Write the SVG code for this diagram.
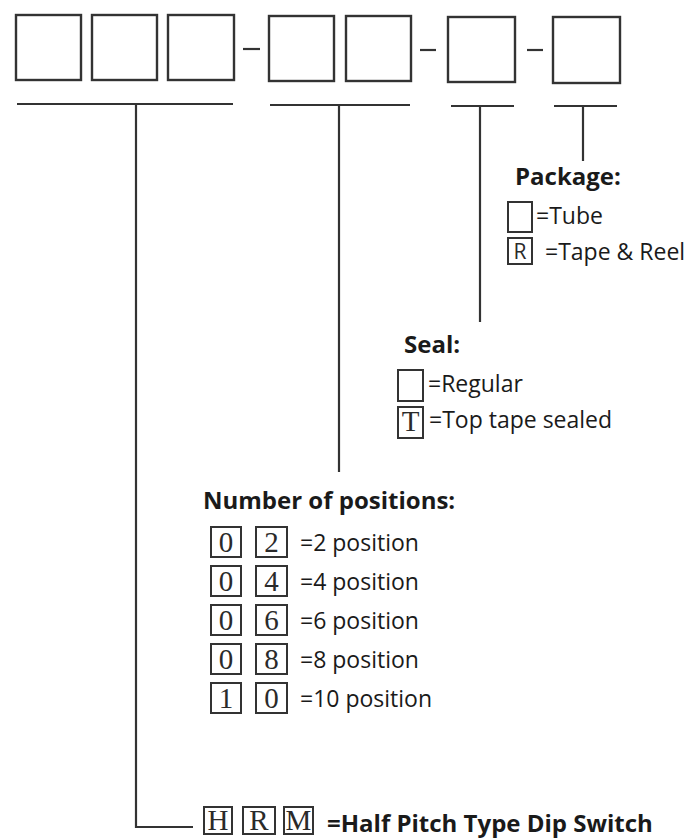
<svg xmlns="http://www.w3.org/2000/svg" width="692" height="838" viewBox="0 0 692 838">
<style>
.bx{fill:none;stroke:#333;stroke-width:2.4}
.sb{fill:none;stroke:#333;stroke-width:2}
.ln{fill:none;stroke:#333;stroke-width:2.2}
.h{font-family:"Open Sans","Noto Sans",sans-serif;font-weight:bold;font-size:24px;fill:#1a1a1a}
.t{font-family:"Open Sans","Noto Sans",sans-serif;font-size:23px;fill:#1a1a1a}
.c{font-family:"Liberation Serif",serif;font-size:29px;fill:#2a2a2a;text-anchor:middle}
.cs{font-family:"Open Sans",sans-serif;font-size:21px;fill:#2a2a2a;text-anchor:middle}
</style>
<rect width="692" height="838" fill="#fff"/>
<g id="code-boxes">
<rect class="bx" x="16" y="15" width="65" height="65"/>
<rect class="bx" x="92" y="15" width="65" height="65"/>
<rect class="bx" x="168" y="15" width="66" height="65"/>
<line class="ln" x1="243" y1="49" x2="260" y2="49" stroke-width="3"/>
<rect class="bx" x="269" y="16" width="65" height="65"/>
<rect class="bx" x="346" y="16" width="65" height="65"/>
<line class="ln" x1="420" y1="50" x2="436" y2="50" stroke-width="3"/>
<rect class="bx" x="448" y="17" width="67" height="65"/>
<line class="ln" x1="527" y1="50" x2="543" y2="50" stroke-width="3"/>
<rect class="bx" x="553" y="17" width="67" height="66"/>
</g>
<g id="connectors">
<line class="ln" x1="17" y1="104" x2="233" y2="104"/>
<polyline class="ln" points="136,104 136,827 193,827"/>
<line class="ln" x1="270" y1="105" x2="410" y2="105"/>
<line class="ln" x1="339" y1="105" x2="339" y2="472"/>
<line class="ln" x1="451" y1="106" x2="514" y2="106"/>
<line class="ln" x1="480" y1="106" x2="480" y2="322"/>
<line class="ln" x1="554" y1="106" x2="617" y2="106"/>
<line class="ln" x1="583" y1="106" x2="583" y2="161"/>
</g>
<g id="package">
<text class="h" x="515" y="185">Package:</text>
<rect class="sb" x="508" y="202" width="24" height="30"/>
<text class="t" x="536" y="224">=Tube</text>
<rect class="sb" x="508" y="238" width="24" height="26"/>
<text class="cs" x="520" y="259">R</text>
<text class="t" x="545" y="260">=Tape &amp; Reel</text>
</g>
<g id="seal">
<text class="h" x="404" y="353">Seal:</text>
<rect class="sb" x="398" y="370" width="25" height="31"/>
<text class="t" x="428" y="392">=Regular</text>
<rect class="sb" x="398" y="407" width="25" height="31"/>
<text class="c" x="410.5" y="431" font-size="27">T</text>
<text class="t" x="429" y="428">=Top tape sealed</text>
</g>
<g id="positions">
<text class="h" x="203" y="509">Number of positions:</text>
<rect class="sb" x="211" y="527" width="30" height="30"/><text class="c" x="226" y="552">0</text>
<rect class="sb" x="256" y="527" width="31" height="30"/><text class="c" x="271.5" y="552">2</text>
<text class="t" x="300" y="551">=2 position</text>
<rect class="sb" x="211" y="566" width="30" height="30"/><text class="c" x="226" y="591">0</text>
<rect class="sb" x="256" y="566" width="31" height="30"/><text class="c" x="271.5" y="591">4</text>
<text class="t" x="300" y="590">=4 position</text>
<rect class="sb" x="211" y="605" width="30" height="30"/><text class="c" x="226" y="630">0</text>
<rect class="sb" x="256" y="605" width="31" height="30"/><text class="c" x="271.5" y="630">6</text>
<text class="t" x="300" y="629">=6 position</text>
<rect class="sb" x="211" y="644" width="30" height="30"/><text class="c" x="226" y="669">0</text>
<rect class="sb" x="256" y="644" width="31" height="30"/><text class="c" x="271.5" y="669">8</text>
<text class="t" x="300" y="668">=8 position</text>
<rect class="sb" x="211" y="683" width="30" height="30"/><text class="c" x="226" y="708">1</text>
<rect class="sb" x="256" y="683" width="31" height="30"/><text class="c" x="271.5" y="708">0</text>
<text class="t" x="300" y="707">=10 position</text>
</g>
<g id="series">
<rect class="sb" x="204" y="807" width="28" height="27"/><text class="c" x="218" y="830" font-size="26">H</text>
<rect class="sb" x="243" y="807" width="32" height="27"/><text class="c" x="259" y="830" font-size="26">R</text>
<rect class="sb" x="284" y="807" width="29" height="27"/><text class="c" x="298.5" y="830" font-size="26">M</text>
<text class="h" x="327" y="832">=Half Pitch Type Dip Switch</text>
</g>
</svg>
